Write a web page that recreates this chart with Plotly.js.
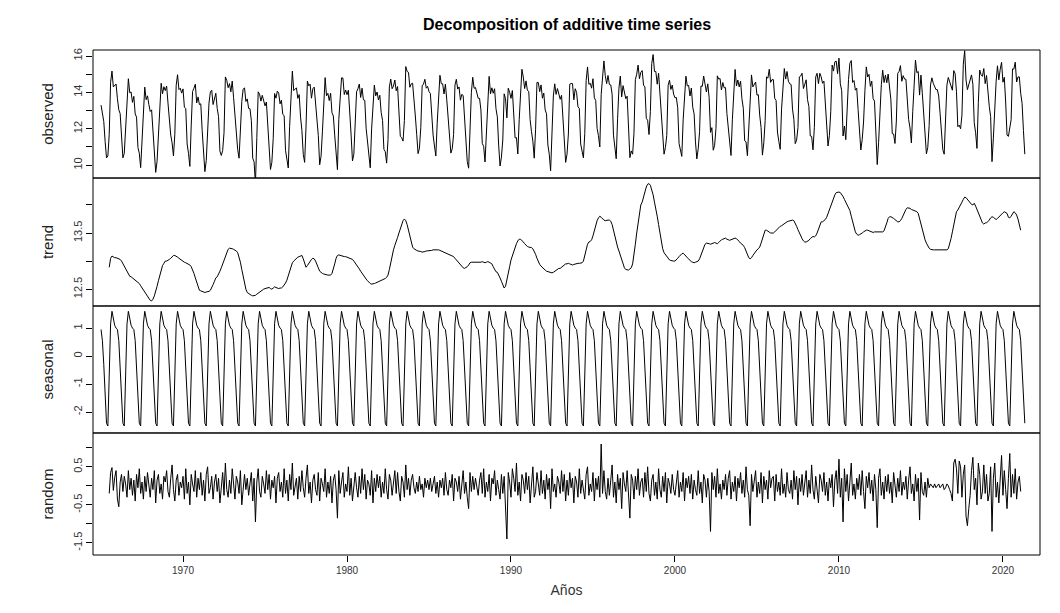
<!DOCTYPE html>
<html>
<head>
<meta charset="utf-8">
<script src="https://cdn.plot.ly/plotly-3.0.1.min.js"></script>
<style>body{margin:0;background:#fff}#chart{width:1060px;height:613px}</style>
</head>
<body>
<div id="chart"></div>
<script>
// monthly series, Jan 1965 - May 2021
const startYear = 1965;
// seasonal figure, Jan..Dec
const seasonal12 = [0.95, 0.55, -0.3, -1.6, -2.4, -2.5, -1.0, 1.15, 1.6, 1.35, 1.1, 1.0];
// trend, Jul 1965 - Feb 2021, in hundredths above 12.00
const trendRows = [
  [89,105,109,107,106,106],
  [105,104,103,100,95,90,85,80,75,73,72,70],
  [68,66,64,62,60,56,52,48,44,40,36,33],
  [30,29,32,38,45,55,65,75,85,92,96,100],
  [100,101,103,105,108,110,110,109,107,105,103,101],
  [99,98,97,96,95,93,90,85,78,70,62,55],
  [48,47,46,45,44,45,45,46,48,52,58,64],
  [70,72,76,82,88,95,103,110,116,121,123,123],
  [122,121,120,118,115,108,98,85,72,60,50,44],
  [42,40,39,38,38,39,41,43,45,47,49,50],
  [51,52,52,53,51,50,52,54,53,52,51,52],
  [52,54,57,61,66,74,82,90,97,100,103,105],
  [107,108,109,110,104,95,89,92,96,100,103,105],
  [104,100,95,88,82,79,78,77,76,76,75,75],
  [75,78,85,95,105,110,111,110,110,109,108,108],
  [107,107,106,105,103,100,97,93,90,86,82,78],
  [74,71,68,65,62,60,59,59,60,61,62,63],
  [64,65,66,67,69,71,75,85,98,110,120,128],
  [134,142,150,158,166,172,175,172,165,155,143,132],
  [125,122,120,119,118,118,117,116,116,117,118,118],
  [119,119,119,120,120,120,121,120,119,118,117,116],
  [115,114,113,112,111,110,108,105,102,98,95,92],
  [89,88,87,88,90,93,97,98,98,97,97,98],
  [98,97,98,99,98,97,98,99,98,97,95,90],
  [85,81,80,76,70,64,58,52,55,65,78,90],
  [102,110,118,125,131,136,139,139,137,134,131,128],
  [126,125,125,124,122,118,112,105,99,94,91,88],
  [86,84,82,81,80,79,79,80,82,84,86,87],
  [87,89,91,93,95,95,96,95,94,93,94,95],
  [95,96,96,96,97,100,108,120,130,134,135,138],
  [145,155,165,172,177,180,178,175,173,172,173,173],
  [173,171,165,155,142,130,125,118,110,100,92,88],
  [85,84,84,86,88,95,110,130,150,170,190,200],
  [205,215,225,232,237,238,235,228,218,205,195,180],
  [165,150,135,122,115,112,108,104,102,101,100,100],
  [100,102,105,108,111,113,114,112,109,106,103,100],
  [99,98,97,98,99,100,104,110,118,125,130,132],
  [132,131,130,131,132,133,132,131,133,136,138,139],
  [140,141,139,138,137,138,139,140,141,140,138,135],
  [132,130,128,124,118,112,106,104,106,110,114,117],
  [120,122,125,132,140,148,155,155,153,152,150,150],
  [150,152,155,157,160,162,163,165,166,168,170,171],
  [172,173,173,172,168,162,156,150,145,140,136,134],
  [134,135,137,140,143,144,143,145,150,158,165,170],
  [170,172,174,178,185,192,198,205,212,218,222,223],
  [223,222,219,215,210,205,200,196,190,180,170,160],
  [152,148,146,147,148,150,152,154,155,155,154,153],
  [152,151,152,152,153,153,152,152,152,154,160,168],
  [176,179,179,178,176,174,172,170,170,172,176,182],
  [188,192,195,195,194,192,191,190,188,188,185,175],
  [165,155,146,138,132,127,123,121,120,120,120,120],
  [120,120,120,120,120,120,120,120,122,130,140,152],
  [165,178,188,191,195,200,205,210,214,213,210,206],
  [203,201,200,203,198,192,185,178,172,168,166,168],
  [168,170,173,177,179,178,175,174,176,179,182,185],
  [186,188,187,185,178,177,180,184,188,186,182,175],
  [165,155]
];
// remainder, Jul 1965 - Feb 2021, in hundredths
const randomRows = [
  [-20,35,48,-12,22,40],
  [-35,-55,10,30,-15,25,5,-30,40,-10,20,-25],
  [15,-40,30,-5,45,-20,10,-35,25,-15,35,0],
  [-30,20,-10,40,-45,15,30,-20,5,-35,25,10],
  [40,-15,-30,20,55,-10,-40,15,30,-25,10,-5],
  [25,-35,45,-20,10,-50,30,5,-15,40,-30,20],
  [-10,35,-25,15,-40,30,50,-20,-5,25,-35,10],
  [30,-15,20,-45,5,35,-25,60,-10,-30,15,-20],
  [45,-5,-35,25,10,-20,40,-50,-15,30,-10,20],
  [-25,15,35,-40,20,-95,10,45,-15,-30,25,5],
  [-20,40,-10,30,-35,15,-5,25,-45,20,35,-15],
  [10,-30,45,-20,15,-40,30,-10,60,-25,5,20],
  [-35,25,-15,40,-5,-30,20,55,-20,10,-45,15],
  [30,-10,-25,35,-40,20,5,-15,45,-30,10,-20],
  [25,-45,15,30,-10,-85,40,-20,10,35,-30,5],
  [-15,50,-25,20,-40,10,35,-5,-30,25,-20,45],
  [-10,30,-35,15,5,-25,40,-45,20,-15,30,-5],
  [25,-30,10,-20,45,-10,-35,30,15,-25,5,40],
  [-20,35,-15,-40,25,10,-30,55,-10,20,-25,15],
  [30,-5,-20,10,-15,25,-10,5,-30,20,-5,15],
  [-10,20,-15,5,25,-20,10,-30,15,-5,20,-25],
  [35,-10,-25,15,-5,30,-40,20,10,-15,25,-35],
  [5,40,-20,10,-30,-60,35,-15,25,-10,20,-5],
  [-25,15,35,-20,45,-30,10,-15,30,-40,20,5],
  [40,-25,15,-10,-35,30,-20,25,-50,-140,35,10],
  [-30,45,20,-15,60,-25,10,-40,30,15,-20,35],
  [-10,25,-45,20,50,-30,-15,35,-5,-25,40,-20],
  [15,-35,30,-10,20,-60,45,-15,5,-30,25,10],
  [-20,40,-15,30,-40,15,-25,35,-5,20,-45,25],
  [10,-30,45,-20,15,-10,-35,30,50,-25,5,-15],
  [35,-40,20,-10,25,-30,110,-20,40,-15,-35,20],
  [-25,15,55,-30,10,-45,30,-10,20,-60,35,5],
  [-15,40,-20,-85,30,15,-35,25,-10,45,-25,10],
  [20,-30,35,-15,50,-20,-40,15,30,-25,10,-35],
  [45,-10,-30,25,-15,35,-45,20,5,-20,30,-10],
  [-25,15,40,-30,10,-15,35,-40,20,-5,25,-20],
  [30,-35,15,-10,-25,40,-20,10,-45,30,15,-30],
  [20,-15,-120,35,-10,25,-30,45,-20,5,-35,15],
  [-10,30,-25,20,40,-35,10,-15,25,-40,20,-5],
  [35,-20,15,-30,50,-10,-25,-105,30,-15,20,40],
  [-30,10,-20,35,-45,25,-10,15,-35,40,-5,20],
  [25,-40,30,-15,10,-25,45,-20,5,-30,35,-10],
  [-20,15,-35,40,-10,25,-50,20,-15,30,-25,10],
  [40,-30,15,-20,55,-10,-35,25,-5,-45,30,15],
  [-15,35,-25,10,-40,20,-5,30,-55,15,40,-20],
  [70,-30,20,-95,45,-15,30,-40,10,60,-25,5],
  [-35,20,-10,30,-25,40,-15,-60,25,-5,35,-20],
  [15,-40,30,-10,-110,20,45,-25,10,-35,25,-15],
  [30,-20,10,-45,35,-5,-30,20,-15,40,-25,10],
  [-10,25,-35,15,50,-20,5,-40,30,-15,20,-90],
  [35,-15,-25,10,-30,20,-5,5,0,-5,5,-5],
  [0,5,-5,0,5,-10,-5,5,0,-10,-20,-40],
  [60,70,45,-20,65,50,-30,30,55,-80,-105,-60],
  [-25,40,75,-10,20,-50,60,30,-35,-15,55,-20],
  [30,-40,-20,50,-120,20,60,-30,10,-45,35,80],
  [-25,40,-10,-60,20,85,-30,30,-20,45,-35,10],
  [25,-15]
];
// observed months outside the trend window
const observedHead = [13.3, 12.7, 12.4, 11.3, 10.4, 10.5]; // Jan-Jun 1965
const observedTail = [13.4, 11.9, 10.6]; // Mar-May 2021

const trend = trendRows.flat().map(v => 12 + v / 100);
const random = randomRows.flat().map(v => v / 100);
const nMonths = observedHead.length + trend.length + observedTail.length;
const x = Array.from({length: nMonths}, (_, i) => startYear + i / 12);
const seasonal = x.map((_, i) => seasonal12[i % 12]);
const off = observedHead.length;
const xTrend = x.slice(off, off + trend.length);
const observed = observedHead
  .concat(trend.map((t, i) => +(t + seasonal[off + i] + (random[i] || 0)).toFixed(2)))
  .concat(observedTail);

const line = {color: '#000', width: 1};
const traces = [
  {x: x, y: observed, yaxis: 'y'},
  {x: xTrend, y: trend, yaxis: 'y2'},
  {x: x, y: seasonal, yaxis: 'y3'},
  {x: xTrend, y: random, yaxis: 'y4'}
].map(t => Object.assign(t, {type: 'scatter', mode: 'lines', line: line, hoverinfo: 'x+y', showlegend: false}));

const yax = (domain, range, vals, text, title) => ({
  domain: domain, range: range, anchor: 'x', tickvals: vals, ticktext: text, tickangle: -90,
  ticks: 'outside', ticklen: 6, tickcolor: '#000', showgrid: false, zeroline: false, showline: false,
  tickfont: {size: 11, color: '#333'}, title: {text: title, font: {size: 15, color: '#222'}, standoff: 14}
});

const panels = [[0.7465, 1], [0.4931, 0.7465], [0.2416, 0.4931], [0, 0.2416]];
const shapes = panels.map(([a, b]) => ({type: 'rect', xref: 'paper', yref: 'paper', x0: 0, x1: 1, y0: a, y1: b, line: {color: '#000', width: 1}}));

const layout = {
  width: 1060, height: 613,
  margin: {l: 93, r: 20, t: 50, b: 58},
  paper_bgcolor: '#fff', plot_bgcolor: '#fff',
  font: {family: 'Liberation Sans, Arial, sans-serif', color: '#222'},
  title: {text: '<b>Decomposition of additive time series</b>', x: 0.535, xanchor: 'center', y: 0.97, font: {size: 16, color: '#000'}},
  xaxis: {range: [1964.51, 2022.26], anchor: 'y4', tickvals: [1970, 1980, 1990, 2000, 2010, 2020],
    ticks: 'outside', ticklen: 6, tickcolor: '#000', showgrid: false, zeroline: false,
    tickfont: {size: 10, color: '#333'}, title: {text: 'Años', font: {size: 14, color: '#333'}, standoff: 10}},
  yaxis: yax(panels[0], [9.29, 16.33], [10, 11, 12, 13, 14, 15, 16], ['10', '', '12', '', '14', '', '16'], 'observed'),
  yaxis2: yax(panels[1], [12.2, 14.48], [12.5, 13, 13.5, 14], ['12.5', '', '13.5', ''], 'trend'),
  yaxis3: yax(panels[2], [-2.75, 1.79], [-2, -1, 0, 1], ['-2', '-1', '0', '1'], 'seasonal'),
  yaxis4: yax(panels[3], [-1.82, 1.39], [-1.5, -1, -0.5, 0, 0.5, 1], ['-1.5', '', '-0.5', '', '0.5', ''], 'random'),
  shapes: shapes
};

Plotly.newPlot('chart', traces, layout, {displayModeBar: false});
</script>
</body>
</html>
